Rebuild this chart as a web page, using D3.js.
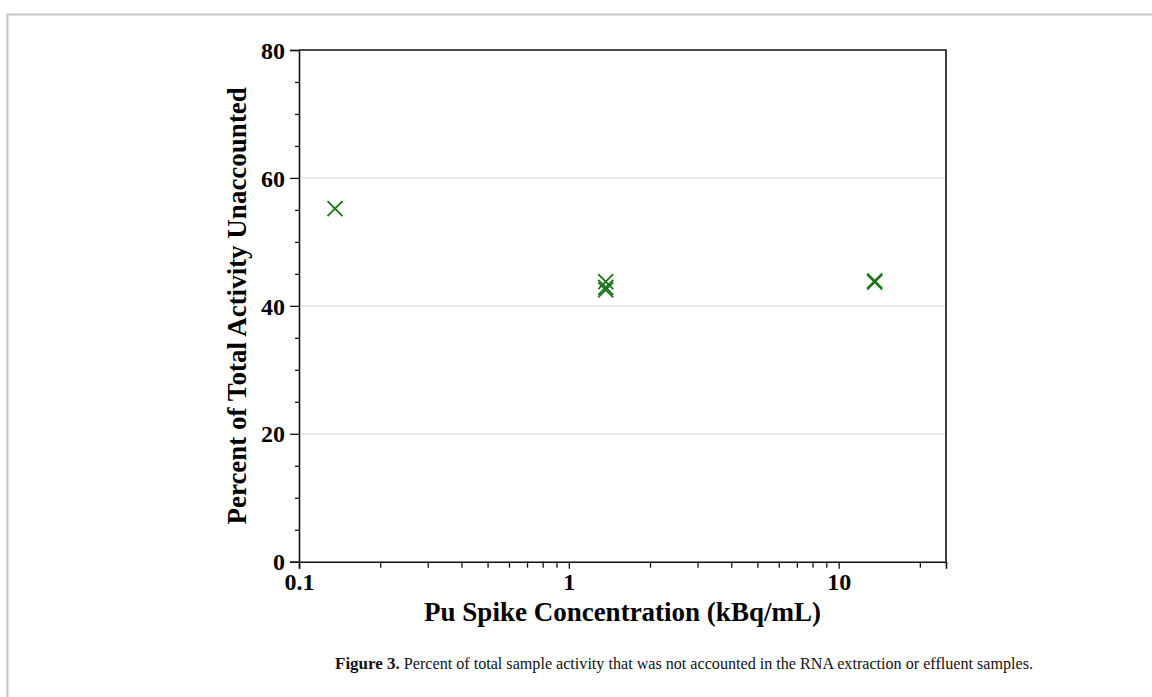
<!DOCTYPE html>
<html>
<head>
<meta charset="utf-8">
<script src="https://cdn.jsdelivr.net/npm/d3@7"></script>
<style>
  body { margin: 0; background: #fff; }
  svg { display: block; }
  text { font-family: "Liberation Serif", "Times New Roman", serif; }
</style>
</head>
<body>
<div id="chart"></div>
<script>
const width = 1152,
   height = 697,
   margin = {top: 50, right: 206, bottom: 135, left: 299};

// spike concentration (kBq/mL) and percent unaccounted
const spikeConc = [0.136, 1.37, 1.37, 1.37, 13.6, 13.6];
const unaccounted = [55.2, 43.8, 42.9, 42.5, 43.7, 43.9];

const xMajorTicks = [0.1, 1, 10];
const xMinorTicks = [0.2, 0.3, 0.4, 0.5, 0.6, 0.7, 0.8, 0.9, 2, 3, 4, 5, 6, 7, 8, 9, 20];
const yMajorTicks = [0, 20, 40, 60, 80];
const yMinorTicks = [5, 10, 15, 25, 30, 35, 45, 50, 55, 65, 70, 75];
const yGrid = [20, 40, 60];

const green = '#177317';

const svg = d3.select('#chart')
   .append('svg')
   .attr('width', width)
   .attr('height', height);

// page frame
svg.append('path')
   .attr('d', `M7.5,${height} V14.5 H${width}`)
   .attr('fill', 'none')
   .attr('stroke', '#c4c4c4')
   .attr('stroke-width', 2);

const x = d3.scaleLog()
   .domain([0.1, 25])
   .range([margin.left, width - margin.right]);

const y = d3.scaleLinear()
   .domain([0, 80])
   .range([height - margin.bottom - 0.3, margin.top]);

const plotBottom = y(0);

// grid lines
svg.append('g')
   .selectAll('line')
   .data(yGrid)
   .join('line')
   .attr('x1', x(0.1))
   .attr('x2', x(25))
   .attr('y1', d => y(d))
   .attr('y2', d => y(d))
   .attr('stroke', '#dcdcdc')
   .attr('stroke-width', 1.3);

// top and right frame of plot
svg.append('path')
   .attr('d', `M${x(0.1)},${y(80)} H${x(25)} V${plotBottom}`)
   .attr('fill', 'none')
   .attr('stroke', '#111')
   .attr('stroke-width', 1.6);

// x axis
const xAxis = svg.append('g')
   .attr('transform', `translate(0, ${plotBottom})`)
   .call(d3.axisBottom(x).tickValues(xMajorTicks).tickFormat(d3.format('')).tickSize(7).tickPadding(4));

svg.append('g')
   .attr('transform', `translate(0, ${plotBottom})`)
   .call(d3.axisBottom(x).tickValues(xMinorTicks).tickFormat('').tickSize(6))
   .call(g => g.select('.domain').remove());

// y axis
const yAxis = svg.append('g')
   .attr('transform', `translate(${x(0.1)}, 0)`)
   .call(d3.axisLeft(y).tickValues(yMajorTicks).tickSize(9).tickPadding(5));

svg.append('g')
   .attr('transform', `translate(${x(0.1)}, 0)`)
   .call(d3.axisLeft(y).tickValues(yMinorTicks).tickFormat('').tickSize(4))
   .call(g => g.select('.domain').remove());

svg.selectAll('.domain')
   .attr('stroke', '#111')
   .attr('stroke-width', 1.6);

svg.selectAll('.tick line')
   .attr('stroke', '#111')
   .attr('stroke-width', 1.3);

svg.selectAll('.tick text')
   .style('font-family', '"Liberation Serif", serif')
   .style('font-size', '24px')
   .style('font-weight', 'bold')
   .attr('fill', '#000');

yAxis.selectAll('.tick text').attr('dy', '0.34em');

// axis titles
svg.append('text')
   .attr('x', (x(0.1) + x(25)) / 2)
   .attr('y', 621)
   .attr('text-anchor', 'middle')
   .style('font-size', '27px')
   .style('font-weight', 'bold')
   .text('Pu Spike Concentration (kBq/mL)');

svg.append('text')
   .attr('transform', `translate(246, ${(y(0) + y(80)) / 2}) rotate(-90)`)
   .attr('text-anchor', 'middle')
   .style('font-size', '27px')
   .style('font-weight', 'bold')
   .text('Percent of Total Activity Unaccounted');

// x markers
const data = spikeConc.map((c, i) => ({c, v: unaccounted[i]}));
const s = 7.5;

svg.append('g')
   .selectAll('path')
   .data(data)
   .join('path')
   .attr('d', d => {
      const cx = x(d.c), cy = y(d.v);
      return `M${cx - s},${cy - s} L${cx + s},${cy + s} M${cx - s},${cy + s} L${cx + s},${cy - s}`;
   })
   .attr('fill', 'none')
   .attr('stroke', green)
   .attr('stroke-width', 1.8);

// caption
const capLabel = svg.append('text')
   .attr('x', 335)
   .attr('y', 669)
   .style('font-size', '17px')
   .style('font-weight', 'bold')
   .attr('fill', '#111')
   .text('Figure 3.');

const capStart = 335 + capLabel.node().getComputedTextLength() + 4;

svg.append('text')
   .attr('x', capStart)
   .attr('y', 669)
   .attr('textLength', 1033 - capStart)
   .attr('lengthAdjust', 'spacingAndGlyphs')
   .style('font-size', '17px')
   .attr('fill', '#111')
   .text('Percent of total sample activity that was not accounted in the RNA extraction or effluent samples.');
</script>
</body>
</html>
